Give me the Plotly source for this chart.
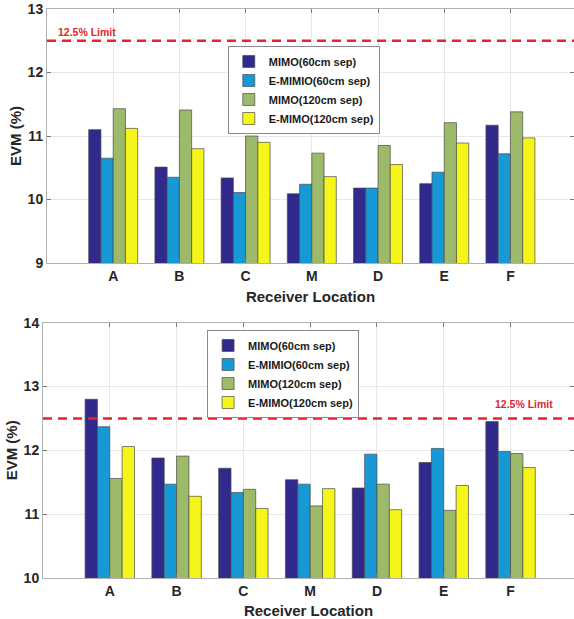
import plotly.graph_objects as go

categories = ["A", "B", "C", "M", "D", "E", "F"]
series_names = ["MIMO(60cm sep)", "E-MIMIO(60cm sep)", "MIMO(120cm sep)", "E-MIMO(120cm sep)"]
colors = ["#2F2A8C", "#1699D5", "#9DBA6A", "#F5F519"]

top_mimo60 = [11.10, 10.51, 10.34, 10.09, 10.18, 10.25, 11.17]
top_emimo60 = [10.65, 10.35, 10.11, 10.24, 10.18, 10.43, 10.72]
top_mimo120 = [11.43, 11.41, 11.00, 10.73, 10.85, 11.21, 11.38]
top_emimo120 = [11.12, 10.80, 10.90, 10.36, 10.55, 10.89, 10.97]

bot_mimo60 = [12.80, 11.88, 11.72, 11.54, 11.41, 11.81, 12.45]
bot_emimo60 = [12.37, 11.47, 11.34, 11.47, 11.94, 12.03, 11.98]
bot_mimo120 = [11.56, 11.91, 11.39, 11.13, 11.47, 11.06, 11.95]
bot_emimo120 = [12.06, 11.28, 11.09, 11.40, 11.07, 11.45, 11.73]

limit_value = 12.5
limit_label = "12.5% Limit"

top_series = [top_mimo60, top_emimo60, top_mimo120, top_emimo120]
bot_series = [bot_mimo60, bot_emimo60, bot_mimo120, bot_emimo120]

FONT = "Arial, Liberation Sans, sans-serif"
xpos = list(range(1, len(categories) + 1))

fig = go.Figure()
for name, vals, col in zip(series_names, top_series, colors):
    fig.add_trace(go.Bar(x=xpos, y=vals, name=name, marker=dict(color=col, line=dict(color="#4a4a4a", width=0.7)),
                         xaxis="x", yaxis="y", legend="legend"))
for name, vals, col in zip(series_names, bot_series, colors):
    fig.add_trace(go.Bar(x=xpos, y=vals, name=name, marker=dict(color=col, line=dict(color="#4a4a4a", width=0.7)),
                         xaxis="x2", yaxis="y2", legend="legend2"))

axis_common = dict(showline=True, linecolor="#b0b0b0", linewidth=1, mirror="ticks",
                   ticks="inside", ticklen=4, tickcolor="#777777",
                   showgrid=True, gridcolor="#e8e8e8", gridwidth=1, zeroline=False,
                   tickfont=dict(family=FONT, size=14, color="#262626", weight="bold"))
title_font = dict(family=FONT, size=15, color="#262626", weight="bold")

fig.update_layout(
    width=574, height=619,
    margin=dict(l=43, r=0, t=9, b=41),
    paper_bgcolor="white", plot_bgcolor="white",
    barmode="group", bargap=0.26, bargroupgap=0,
    showlegend=True,
    xaxis=dict(domain=[0.0075, 1], anchor="y", range=[0, 7.96], tickvals=xpos, ticktext=categories,
               title=dict(text="Receiver Location", font=title_font, standoff=8),
               **axis_common),
    yaxis=dict(domain=[0.5536, 1], anchor="x", range=[9, 13], tickvals=[9, 10, 11, 12, 13],
               title=dict(text="EVM (%)", font=title_font, standoff=2),
               **axis_common),
    xaxis2=dict(domain=[0, 1], anchor="y2", range=[0, 7.95], tickvals=xpos, ticktext=categories,
                title=dict(text="Receiver Location", font=title_font, standoff=8),
                **axis_common),
    yaxis2=dict(domain=[0, 0.4487], anchor="x2", range=[10, 14], tickvals=[10, 11, 12, 13, 14],
                title=dict(text="EVM (%)", font=title_font, standoff=2),
                **axis_common),
    legend=dict(x=0.348, y=0.935, xanchor="left", yanchor="top", bgcolor="white",
                bordercolor="#8a8a8a", borderwidth=1, tracegroupgap=0, itemwidth=30,
                font=dict(family=FONT, size=11, color="#1a1a1a", weight="bold")),
    legend2=dict(x=0.309, y=0.4359, xanchor="left", yanchor="top", bgcolor="white",
                 bordercolor="#8a8a8a", borderwidth=1, tracegroupgap=0, itemwidth=30,
                 font=dict(family=FONT, size=11, color="#1a1a1a", weight="bold")),
)

for xa, ya, xr in (("x", "y", 7.96), ("x2", "y2", 7.95)):
    fig.add_shape(type="line", xref=xa, yref=ya, x0=0, x1=xr, y0=limit_value, y1=limit_value,
                  line=dict(color="#E8232B", width=2.5, dash="9px,6px"))

fig.add_annotation(xref="x", yref="y", x=0.61, y=12.64, text=limit_label, showarrow=False,
                   font=dict(family=FONT, size=10.5, color="#E0262E", weight="bold"))
fig.add_annotation(xref="x2", yref="y2", x=7.2, y=12.72, text=limit_label, showarrow=False,
                   font=dict(family=FONT, size=10.5, color="#E0262E", weight="bold"))

fig.write_html("out.html", config={"displayModeBar": False},
               post_script="document.body.style.margin='0';")
